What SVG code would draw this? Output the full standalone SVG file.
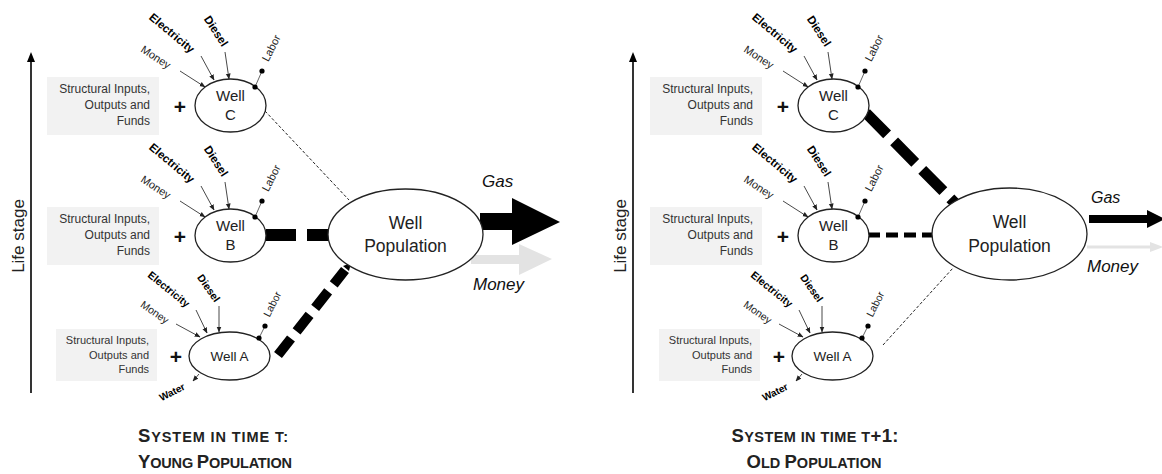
<svg xmlns="http://www.w3.org/2000/svg" width="1162" height="474" viewBox="0 0 1162 474">
  <defs>
    <style>
      text { font-family: "Liberation Sans", Arial, sans-serif; }
      .box { fill: #f2f2f2; }
      .bt { fill: #333; text-anchor: end; }
      .plus { font-weight: bold; font-size: 21px; fill: #111; text-anchor: middle; }
      .well { fill: #fff; stroke: #222; stroke-width: 1.3; }
      .wt { fill: #222; text-anchor: middle; }
      .in { stroke: #333; stroke-width: 0.9; marker-end: url(#ah); }
      .lab { stroke: #555; stroke-width: 0.9; }
      .dot { fill: #000; }
      .lbl { fill: #222; text-anchor: middle; dominant-baseline: central; }
      .b { font-weight: bold; fill: #000; }
      .cap { font-weight: bold; fill: #222; text-anchor: middle; }
      .flow { font-style: italic; fill: #111; }
      .thin { stroke: #222; stroke-width: 1; stroke-dasharray: 3 2; fill: none; }
    </style>
    <marker id="ah" viewBox="0 0 10 10" refX="9" refY="5" markerWidth="6" markerHeight="6" orient="auto" markerUnits="userSpaceOnUse">
      <path d="M0,1 L10,5 L0,9 z" fill="#222"/>
    </marker>
  </defs>

  <rect width="1162" height="474" fill="#fff"/>

  <!-- ===== Left panel: time t ===== -->
  <g id="axis-t">
    <line x1="31" y1="393" x2="31" y2="60" stroke="#000" stroke-width="1.6"/>
    <polygon points="31,52 27,62 35,62" fill="#000"/>
    <text x="0" y="0" font-size="17" fill="#222" text-anchor="middle" transform="translate(24,236) rotate(-90)">Life stage</text>
  </g>

  <g id="connectors-t">
    <line class="thin" x1="265" y1="111" x2="349" y2="200"/>
    <line x1="266" y1="235" x2="330" y2="235" stroke="#000" stroke-width="12" stroke-dasharray="30 11"/>
    <line x1="278" y1="355" x2="345" y2="270" stroke="#000" stroke-width="10" stroke-dasharray="21 9"/>
    <polygon points="343,266 351,263 349,271" fill="#000"/>
    <!-- outputs of the population -->
    <polygon points="480,213 512,213 512,198 560,222 512,245 512,230 480,230" fill="#000"/>
    <polygon points="471,255 519,255 519,244 552,259 519,275 519,264 471,264" fill="#e3e3e3"/>
  </g>

  <g id="well-c-t">
    <rect class="box" x="47" y="77" width="112" height="58"/>
    <text class="bt" font-size="12"><tspan x="150" y="93">Structural Inputs,</tspan><tspan x="150" y="109">Outputs and</tspan><tspan x="150" y="125">Funds</tspan></text>
    <text class="plus" x="180" y="114">+</text>
    <line class="in" x1="180" y1="71" x2="205" y2="87"/>
    <line class="in" x1="201" y1="56" x2="214" y2="80"/>
    <line class="in" x1="225" y1="52" x2="229" y2="79"/>
    <ellipse class="well" cx="230.5" cy="105.5" rx="35.5" ry="26.5"/>
    <line class="lab" x1="255" y1="87" x2="262" y2="71"/>
    <circle class="dot" cx="255" cy="87" r="2.6"/>
    <circle class="dot" cx="262" cy="71" r="2.6"/>
    <text class="wt" x="230.5" y="101" font-size="15">Well</text>
    <text class="wt" x="230.5" y="120" font-size="15">C</text>
    <text class="lbl" font-size="11" transform="translate(156,57) rotate(33)">Money</text>
    <text class="lbl b" font-size="11.5" transform="translate(172,33) rotate(40)">Electricity</text>
    <text class="lbl b" font-size="11.5" transform="translate(216,31) rotate(57)">Diesel</text>
    <text class="lbl" font-size="11" transform="translate(271,48) rotate(-63)">Labor</text>
  </g>

  <g id="well-b-t" transform="translate(0,130)">
    <rect class="box" x="47" y="77" width="112" height="58"/>
    <text class="bt" font-size="12"><tspan x="150" y="93">Structural Inputs,</tspan><tspan x="150" y="109">Outputs and</tspan><tspan x="150" y="125">Funds</tspan></text>
    <text class="plus" x="180" y="114">+</text>
    <line class="in" x1="180" y1="71" x2="205" y2="87"/>
    <line class="in" x1="201" y1="56" x2="214" y2="80"/>
    <line class="in" x1="225" y1="52" x2="229" y2="79"/>
    <ellipse class="well" cx="230.5" cy="105.5" rx="35.5" ry="26.5"/>
    <line class="lab" x1="255" y1="87" x2="262" y2="71"/>
    <circle class="dot" cx="255" cy="87" r="2.6"/>
    <circle class="dot" cx="262" cy="71" r="2.6"/>
    <text class="wt" x="230.5" y="101" font-size="15">Well</text>
    <text class="wt" x="230.5" y="120" font-size="15">B</text>
    <text class="lbl" font-size="11" transform="translate(156,57) rotate(33)">Money</text>
    <text class="lbl b" font-size="11.5" transform="translate(172,33) rotate(40)">Electricity</text>
    <text class="lbl b" font-size="11.5" transform="translate(216,31) rotate(57)">Diesel</text>
    <text class="lbl" font-size="11" transform="translate(271,48) rotate(-63)">Labor</text>
  </g>

  <g id="well-a-t">
    <rect class="box" x="56" y="329" width="101" height="52"/>
    <text class="bt" font-size="11"><tspan x="149" y="344">Structural Inputs,</tspan><tspan x="149" y="359">Outputs and</tspan><tspan x="149" y="373">Funds</tspan></text>
    <text class="plus" x="176" y="364" font-size="19">+</text>
    <line class="in" x1="176" y1="324" x2="200" y2="337"/>
    <line class="in" x1="196" y1="310" x2="207" y2="333"/>
    <line class="in" x1="219" y1="306" x2="219" y2="332"/>
    <line class="in" x1="199" y1="374" x2="193" y2="381"/>
    <ellipse class="well" cx="229.5" cy="356" rx="40.5" ry="24"/>
    <line class="lab" x1="259" y1="338" x2="265" y2="326"/>
    <circle class="dot" cx="259" cy="338" r="2.6"/>
    <circle class="dot" cx="265" cy="326" r="2.6"/>
    <text class="wt" x="229.5" y="361" font-size="13.5">Well A</text>
    <text class="lbl" font-size="10.5" transform="translate(155,312) rotate(35)">Money</text>
    <text class="lbl b" font-size="10.5" transform="translate(169,289) rotate(39)">Electricity</text>
    <text class="lbl b" font-size="10.5" transform="translate(209,288) rotate(55)">Diesel</text>
    <text class="lbl" font-size="10.5" transform="translate(272,304) rotate(-63)">Labor</text>
    <text class="lbl b" font-size="10" transform="translate(172,392) rotate(-27)">Water</text>
  </g>

  <g id="population-t">
    <ellipse class="well" cx="405.5" cy="234.5" rx="77.5" ry="45.5"/>
    <text class="wt" x="405.5" y="229" font-size="17.5">Well</text>
    <text class="wt" x="405.5" y="252" font-size="17.5">Population</text>
    <text class="flow" x="482" y="187" font-size="17">Gas</text>
    <text class="flow" x="473" y="290" font-size="17">Money</text>
  </g>

  <g id="caption-t">
    <text class="cap" x="213" y="442" textLength="150" lengthAdjust="spacing"><tspan font-size="18.5">S</tspan><tspan font-size="14.5">YSTEM IN TIME T:</tspan></text>
    <text class="cap" x="215" y="468" textLength="154" lengthAdjust="spacing"><tspan font-size="18.5">Y</tspan><tspan font-size="14.5">OUNG </tspan><tspan font-size="18.5">P</tspan><tspan font-size="14.5">OPULATION</tspan></text>
  </g>

  <!-- ===== Right panel: time t+1 ===== -->
  <g id="axis-t1">
    <line x1="633" y1="393" x2="633" y2="60" stroke="#000" stroke-width="1.6"/>
    <polygon points="633,52 629,62 637,62" fill="#000"/>
    <text x="0" y="0" font-size="17" fill="#222" text-anchor="middle" transform="translate(626,236) rotate(-90)">Life stage</text>
  </g>

  <g id="connectors-t1">
    <line x1="866" y1="113" x2="956" y2="204" stroke="#000" stroke-width="11" stroke-dasharray="30 10"/>
    <line x1="868" y1="235" x2="934" y2="235" stroke="#000" stroke-width="5" stroke-dasharray="12 6"/>
    <line class="thin" x1="883" y1="345" x2="953" y2="268"/>
    <!-- outputs of the population -->
    <line x1="1089" y1="219" x2="1150" y2="219" stroke="#000" stroke-width="8"/>
    <polygon points="1147,210 1165,219 1147,228" fill="#000"/>
    <line x1="1087" y1="247" x2="1152" y2="247" stroke="#e3e3e3" stroke-width="3"/>
    <polygon points="1150,242 1163,247 1150,252" fill="#e3e3e3"/>
  </g>

  <g id="well-c-t1" transform="translate(603,0)">
    <rect class="box" x="47" y="77" width="112" height="58"/>
    <text class="bt" font-size="12"><tspan x="150" y="93">Structural Inputs,</tspan><tspan x="150" y="109">Outputs and</tspan><tspan x="150" y="125">Funds</tspan></text>
    <text class="plus" x="180" y="114">+</text>
    <line class="in" x1="180" y1="71" x2="205" y2="87"/>
    <line class="in" x1="201" y1="56" x2="214" y2="80"/>
    <line class="in" x1="225" y1="52" x2="229" y2="79"/>
    <ellipse class="well" cx="230.5" cy="105.5" rx="35.5" ry="26.5"/>
    <line class="lab" x1="255" y1="87" x2="262" y2="71"/>
    <circle class="dot" cx="255" cy="87" r="2.6"/>
    <circle class="dot" cx="262" cy="71" r="2.6"/>
    <text class="wt" x="230.5" y="101" font-size="15">Well</text>
    <text class="wt" x="230.5" y="120" font-size="15">C</text>
    <text class="lbl" font-size="11" transform="translate(156,57) rotate(33)">Money</text>
    <text class="lbl b" font-size="11.5" transform="translate(172,33) rotate(40)">Electricity</text>
    <text class="lbl b" font-size="11.5" transform="translate(216,31) rotate(57)">Diesel</text>
    <text class="lbl" font-size="11" transform="translate(271,48) rotate(-63)">Labor</text>
  </g>

  <g id="well-b-t1" transform="translate(603,130)">
    <rect class="box" x="47" y="77" width="112" height="58"/>
    <text class="bt" font-size="12"><tspan x="150" y="93">Structural Inputs,</tspan><tspan x="150" y="109">Outputs and</tspan><tspan x="150" y="125">Funds</tspan></text>
    <text class="plus" x="180" y="114">+</text>
    <line class="in" x1="180" y1="71" x2="205" y2="87"/>
    <line class="in" x1="201" y1="56" x2="214" y2="80"/>
    <line class="in" x1="225" y1="52" x2="229" y2="79"/>
    <ellipse class="well" cx="230.5" cy="105.5" rx="35.5" ry="26.5"/>
    <line class="lab" x1="255" y1="87" x2="262" y2="71"/>
    <circle class="dot" cx="255" cy="87" r="2.6"/>
    <circle class="dot" cx="262" cy="71" r="2.6"/>
    <text class="wt" x="230.5" y="101" font-size="15">Well</text>
    <text class="wt" x="230.5" y="120" font-size="15">B</text>
    <text class="lbl" font-size="11" transform="translate(156,57) rotate(33)">Money</text>
    <text class="lbl b" font-size="11.5" transform="translate(172,33) rotate(40)">Electricity</text>
    <text class="lbl b" font-size="11.5" transform="translate(216,31) rotate(57)">Diesel</text>
    <text class="lbl" font-size="11" transform="translate(271,48) rotate(-63)">Labor</text>
  </g>

  <g id="well-a-t1" transform="translate(603,0)">
    <rect class="box" x="56" y="329" width="101" height="52"/>
    <text class="bt" font-size="11"><tspan x="149" y="344">Structural Inputs,</tspan><tspan x="149" y="359">Outputs and</tspan><tspan x="149" y="373">Funds</tspan></text>
    <text class="plus" x="176" y="364" font-size="19">+</text>
    <line class="in" x1="176" y1="324" x2="200" y2="337"/>
    <line class="in" x1="196" y1="310" x2="207" y2="333"/>
    <line class="in" x1="219" y1="306" x2="219" y2="332"/>
    <line class="in" x1="199" y1="374" x2="193" y2="381"/>
    <ellipse class="well" cx="229.5" cy="356" rx="40.5" ry="24"/>
    <line class="lab" x1="259" y1="338" x2="265" y2="326"/>
    <circle class="dot" cx="259" cy="338" r="2.6"/>
    <circle class="dot" cx="265" cy="326" r="2.6"/>
    <text class="wt" x="229.5" y="361" font-size="13.5">Well A</text>
    <text class="lbl" font-size="10.5" transform="translate(155,312) rotate(35)">Money</text>
    <text class="lbl b" font-size="10.5" transform="translate(169,289) rotate(39)">Electricity</text>
    <text class="lbl b" font-size="10.5" transform="translate(209,288) rotate(55)">Diesel</text>
    <text class="lbl" font-size="10.5" transform="translate(272,304) rotate(-63)">Labor</text>
    <text class="lbl b" font-size="10" transform="translate(172,392) rotate(-27)">Water</text>
  </g>

  <g id="population-t1">
    <ellipse class="well" cx="1009.5" cy="234" rx="77.5" ry="46"/>
    <text class="wt" x="1009.5" y="228" font-size="17.5">Well</text>
    <text class="wt" x="1009.5" y="252" font-size="17.5">Population</text>
    <text class="flow" x="1091" y="203" font-size="16">Gas</text>
    <text class="flow" x="1087" y="272" font-size="17">Money</text>
  </g>

  <g id="caption-t1">
    <text class="cap" x="815" y="442" textLength="167" lengthAdjust="spacing"><tspan font-size="18.5">S</tspan><tspan font-size="14.5">YSTEM IN TIME T</tspan><tspan font-size="18.5">+1:</tspan></text>
    <text class="cap" x="814" y="468" textLength="135" lengthAdjust="spacing"><tspan font-size="18.5">O</tspan><tspan font-size="14.5">LD </tspan><tspan font-size="18.5">P</tspan><tspan font-size="14.5">OPULATION</tspan></text>
  </g>
</svg>
